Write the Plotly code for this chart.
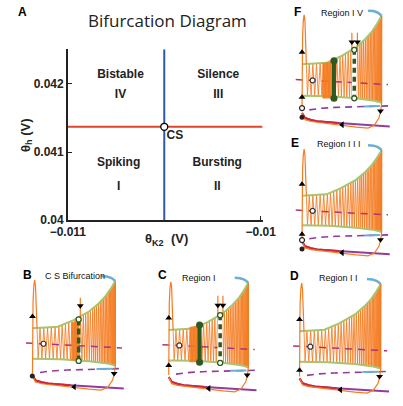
import plotly.graph_objects as go

W, H = 403, 406

# ---------------- Panel A data ----------------
theta_k2_range = [-0.011, -0.00999]
theta_h_range = [0.04, 0.04251]
x_tickvals = [-0.011, -0.01]
x_ticktext = ['−0.011', '−0.01']
y_tickvals = [0.04, 0.041, 0.042]
y_ticktext = ['0.04', '0.041', '0.042']
saddle_x = [-0.011, -0.00999]
saddle_y = [0.04137, 0.04137]
hopf_x = [-0.0105, -0.0105]
hopf_y = [0.04, 0.04251]
cs_x = [-0.0105]
cs_y = [0.04137]
region_names = ['Bistable', 'Silence', 'Spiking', 'Bursting']
region_numerals = ['IV', 'III', 'I', 'II']
region_x = [-0.010727, -0.01022, -0.010737, -0.010225]
region_name_y = [0.042136, 0.042136, 0.040837, 0.040837]
region_num_y = [0.041833, 0.041833, 0.040491, 0.040491]

# ---------------- schematic template (local units, y down) ----------------
spike_x = [0, 0, 0.6, 1.4, 2.3, 3.2, 4.0, 4.8]
spike_y = [95, 49, 22, 6, 0, 6, 22, 49]
peaks_x = [8, 12, 16, 20, 24, 28, 31.5, 35, 38.5, 42, 45, 48, 51, 54, 56.5, 59, 61.5, 64, 66, 68,
           70, 72, 73.8, 75.5, 77.2, 78.8, 80.3, 81.7, 83, 84.2, 85.3, 86.3, 87.2, 88]
peaks_y = [48.7, 48.6, 48.4, 48.1, 47.8, 47.1, 45.7, 44.3, 42.8, 41.4, 39.9, 38.4, 36.8, 35.2, 33.9,
           32.5, 30.8, 28.8, 27.2, 25.6, 24, 22, 20.2, 18.5, 16.7, 14.6, 12.6, 10.7, 9, 7.1, 5.3, 3.7, 2.3, 1]
troughs_x = [6, 10, 14, 18, 22, 26, 29.8, 33.3, 36.8, 40.3, 43.5, 46.5, 49.5, 52.5, 55.3, 57.8, 60.3,
             62.8, 65, 67, 69, 71, 72.9, 74.7, 76.4, 78, 79.6, 81, 82.4, 83.6, 84.8, 85.8, 86.8, 87.6]
troughs_y = [80.1, 80.2, 80.2, 80.3, 80.4, 80.4, 80.5, 80.7, 81, 81.2, 81.4, 81.6, 81.8, 82, 82.2, 82.4,
             82.5, 82.9, 83.1, 83.4, 83.6, 83.9, 84.1, 84.3, 84.6, 84.8, 85, 85.3, 85.6, 85.9, 86.2, 86.5, 86.7, 86.9]
env_up_x = [0, 15, 27, 43, 60, 70, 77, 83, 88]
env_up_y = [49, 48.5, 47.5, 41, 32, 24, 17, 9, 1]
env_lo_x = [0, 30, 60, 80, 88]
env_lo_y = [80, 80.5, 82.5, 85, 87]
cap_x = [73, 79, 84, 88]
cap_y = [-4, -3.6, -2, 1]
mid_x = [-7, 95]
mid_y = [64, 69]
mid_pt = (11.7, 64.8)
bdash_x = [8, 20, 37, 60, 97]
bdash_y = [94, 92.5, 91.5, 90.7, 90]
blow_x = [68, 78, 86]
blow_y = [90.6, 90.4, 90.2]
bsol_x = [0, 3.3, 10, 16.7, 40, 70, 97]
bsol_y = [97, 102, 104, 105.3, 107, 108.7, 110.3]
bred_x = [0, 3.3, 10, 16.7, 40]
bred_y = [97, 102, 104, 105.3, 107]
ret_x = [88, 88, 87, 85, 80, 73, 60, 40, 23, 10, 3.3, 0]
ret_y = [1, 87, 95, 102, 109, 112, 111, 108.5, 107, 105.5, 103.7, 97]
arrow_up = (0, 37)
arrow_down = (86.7, 95)
arrow_left = (44.3, 108.7)

# panel placements (origin px, scale)
panels = {
    'B': dict(ox=15.7, oy=285, sx=1.02, sy=1.0),
    'C': dict(ox=163.3, oy=286.7, sx=0.98, sy=1.0),
    'D': dict(ox=305, oy=288, sx=1.0, sy=1.0),
    'E': dict(ox=307.7, oy=151.7, sx=0.98, sy=0.97),
    'F': dict(ox=307.7, oy=15, sx=0.98, sy=1.03),
}
panel_titles = {'B': 'C S Bifurcation', 'C': 'Region I', 'D': 'Region I I', 'E': 'Region I I I', 'F': 'Region I V'}
title_pos = {'B': (62, 281), 'C': (196, 282.5), 'D': (347, 283), 'E': (348, 146.5), 'F': (351, 13)}
letter_pos = {'A': (5, 12), 'B': (10, 280), 'C': (156.5, 280), 'D': (299.5, 281), 'E': (300, 145), 'F': (302.5, 12.5)}

ORANGE = '#F47B20'
GREEN = '#A9C46E'
BLUE = '#6BAED6'
PURPLE = '#923C9C'
MAGENTA = '#B0337A'
RED = '#D0263A'
DKGREEN = '#2E5A1F'

fig = go.Figure()

# ---------------- Panel A ----------------
fig.add_trace(go.Scatter(x=saddle_x, y=saddle_y, mode='lines', line=dict(color='#E2452D', width=2),
                         xaxis='x', yaxis='y', hoverinfo='skip'))
fig.add_trace(go.Scatter(x=hopf_x, y=hopf_y, mode='lines', line=dict(color='#2D5AA8', width=2),
                         xaxis='x', yaxis='y', hoverinfo='skip'))
fig.add_trace(go.Scatter(x=cs_x, y=cs_y, mode='markers',
                         marker=dict(size=7, color='white', line=dict(color='black', width=1.3)),
                         xaxis='x', yaxis='y', hoverinfo='skip'))
fig.add_trace(go.Scatter(x=region_x, y=region_name_y, mode='text', text=region_names,
                         textfont=dict(family='Liberation Sans', size=12, color='#222', weight='bold'),
                         xaxis='x', yaxis='y', hoverinfo='skip'))
fig.add_trace(go.Scatter(x=region_x, y=region_num_y, mode='text', text=region_numerals,
                         textfont=dict(family='Liberation Sans', size=12, color='#222', weight='bold'),
                         xaxis='x', yaxis='y', hoverinfo='skip'))
fig.add_trace(go.Scatter(x=[-0.010445], y=[0.041241], mode='text', text=['CS'],
                         textfont=dict(family='Liberation Sans', size=12, color='#222', weight='bold'),
                         xaxis='x', yaxis='y', hoverinfo='skip'))


# ---------------- schematic panels ----------------
def tr(p, xs, ys):
    return [p['ox'] + p['sx'] * v for v in xs], [p['oy'] + p['sy'] * v for v in ys]


def add_line(xs, ys, color, width, dash=None, fill=None, fillcolor=None, opacity=1.0):
    fig.add_trace(go.Scatter(x=xs, y=ys, mode='lines', xaxis='x2', yaxis='y2', hoverinfo='skip',
                             line=dict(color=color, width=width, dash=dash), fill=fill,
                             fillcolor=fillcolor, opacity=opacity))


def add_marker(xs, ys, symbol, size, color, lcolor=None, lwidth=0):
    fig.add_trace(go.Scatter(x=xs, y=ys, mode='markers', xaxis='x2', yaxis='y2', hoverinfo='skip',
                             marker=dict(symbol=symbol, size=size, color=color,
                                         line=dict(color=lcolor or color, width=lwidth))))


for name, p in panels.items():
    # zigzag
    zx = [spike_x[-1]]
    zy = [spike_y[-1]]
    for i in range(len(peaks_x)):
        zx += [troughs_x[i], peaks_x[i]]
        zy += [troughs_y[i], peaks_y[i]]
    xs, ys = tr(p, zx, zy)
    add_line(xs, ys, ORANGE, 0.85)
    # dashed mid line over the spikes
    xs, ys = tr(p, mid_x, mid_y)
    add_line(xs, ys, MAGENTA, 1.5, dash='7px,6px')
    # envelopes
    xs, ys = tr(p, env_up_x, env_up_y)
    add_line(xs, ys, GREEN, 2)
    xs, ys = tr(p, env_lo_x, env_lo_y)
    add_line(xs, ys, GREEN, 2)
    # blue cap
    xs, ys = tr(p, cap_x, cap_y)
    add_line(xs, ys, BLUE, 2.5)
    # bottom dashed
    xs, ys = tr(p, bdash_x, bdash_y)
    add_line(xs, ys, PURPLE, 1.6, dash='7px,5px')
    xs, ys = tr(p, blow_x, blow_y)
    add_line(xs, ys, BLUE, 2)
    # bottom solid
    xs, ys = tr(p, bsol_x, bsol_y)
    add_line(xs, ys, PURPLE, 2)
    xs, ys = tr(p, bred_x, bred_y)
    add_line(xs, ys, RED, 2)
    # return path and spike
    xs, ys = tr(p, ret_x, ret_y)
    add_line(xs, ys, ORANGE, 1.2)
    xs, ys = tr(p, spike_x, spike_y)
    add_line(xs, ys, ORANGE, 1.2)
    # mid circle
    xs, ys = tr(p, [mid_pt[0]], [mid_pt[1]])
    add_marker(xs, ys, 'circle', 5, 'white', '#333', 1.2)
    # arrows
    xs, ys = tr(p, [arrow_up[0]], [arrow_up[1]])
    add_marker(xs, ys, 'triangle-up', 6, 'black')
    xs, ys = tr(p, [arrow_down[0]], [arrow_down[1]])
    add_marker(xs, ys, 'triangle-down', 6, 'black')
    xs, ys = tr(p, [arrow_left[0]], [arrow_left[1]])
    add_marker(xs, ys, 'triangle-left', 6, 'black')

# ---- panel-specific extras (px) ----
# B
add_line([58, 65.7, 65.7, 58, 58], [328.5, 326.5, 367, 366.5, 328.5], ORANGE, 0.5, fill='toself', fillcolor=ORANGE, opacity=0.9)
add_line([67.5, 67.5], [303, 326], ORANGE, 1.2)
add_marker([67.5], [311], 'triangle-down', 6, 'black')
add_line([65.7, 65.7], [325, 367.3], DKGREEN, 3.5, dash='6px,3px')
add_marker([65.7, 65.7], [325, 367.3], 'circle', 5, 'white', DKGREEN, 1.3)
add_marker([15.5], [382.7], 'circle', 5, '#222')
# C
add_line([186, 196.7, 196.7, 186, 186], [333, 331, 368.3, 368.3, 333], ORANGE, 0.5, fill='toself', fillcolor=ORANGE, opacity=0.9)
add_line([196.7, 196.7], [330.7, 368.7], DKGREEN, 4)
add_marker([196.7, 196.7], [330.7, 368.7], 'circle', 7, DKGREEN)
add_line([216.5, 216.5], [301, 322], ORANGE, 1.2)
add_line([222, 222], [301, 322], ORANGE, 1.2)
add_line([219, 219], [320.7, 369.3], 'white', 5)
add_line([219, 219], [320.7, 369.3], DKGREEN, 3.5, dash='5px,4px')
add_marker([219, 219], [320.7, 369.3], 'circle', 5, 'white', DKGREEN, 1.3)
add_marker([216.5, 222], [310.7, 310.7], 'triangle-down', 6, 'black')
add_marker([163.3], [372], 'triangle-up', 6, 'black')
# D
add_marker([305], [376.7], 'triangle-up', 6, 'black')
# E
add_marker([307.7], [238.3], 'triangle-up', 6, 'black')
add_marker([307.7], [244.3], 'circle', 5, 'white', '#222', 1.2)
add_marker([307.7], [253.3], 'circle', 5, '#222')
# F
add_line([330, 342.3, 342.3, 330, 330], [64.5, 62.5, 100, 100, 64.5], ORANGE, 0.5, fill='toself', fillcolor=ORANGE, opacity=0.9)
add_line([342.3, 342.3], [61.7, 100], DKGREEN, 4)
add_marker([342.3, 342.3], [61.7, 100], 'circle', 7, DKGREEN)
add_line([361.7, 361.7], [33.3, 52], ORANGE, 1.2)
add_line([367.7, 367.7], [33.3, 52], ORANGE, 1.2)
add_line([364.3, 364.3], [50.7, 100], 'white', 5)
add_line([364.3, 364.3], [50.7, 100], DKGREEN, 3.5, dash='5px,4px')
add_marker([364.3, 364.3], [50.7, 100], 'circle', 5, 'white', DKGREEN, 1.3)
add_marker([361.7, 367.7], [42.7, 42.7], 'triangle-down', 6, 'black')
add_marker([307.7], [99], 'triangle-up', 6, 'black')
add_marker([307.7], [110], 'circle', 5, 'white', '#222', 1.2)
add_marker([307.7], [119.3], 'circle', 5, '#222')

# ---------------- annotations ----------------
ann = []
for k, (x, y) in letter_pos.items():
    ann.append(dict(x=x, y=y, xref='x2', yref='y2', text=k, showarrow=False,
                    font=dict(family='Liberation Sans', size=12, color='black', weight='bold')))
for k, (x, y) in title_pos.items():
    ann.append(dict(x=x, y=y, xref='x2', yref='y2', text=panel_titles[k], showarrow=False,
                    font=dict(family='Liberation Sans', size=9, color='#111')))
ann.append(dict(x=162, y=21, xref='x2', yref='y2', text='Bifurcation Diagram', showarrow=False,
                font=dict(family='Open Sans', size=17, color='#222')))
ann.append(dict(x=161, y=244, xref='x2', yref='y2', text='θ<sub>K2</sub>  (V)', showarrow=False,
                font=dict(family='Liberation Sans', size=13, color='#222', weight='bold')))
ann.append(dict(x=9, y=137, xref='x2', yref='y2', text='θ<sub>h</sub> (V)', showarrow=False, textangle=-90,
                font=dict(family='Liberation Sans', size=13, color='#222', weight='bold')))

fig.update_layout(
    width=W, height=H, margin=dict(l=0, r=0, t=0, b=0), paper_bgcolor='white', plot_bgcolor='rgba(0,0,0,0)',
    showlegend=False, annotations=ann,
    xaxis=dict(domain=[54 / W, 265 / W], range=theta_k2_range, tickvals=x_tickvals, ticktext=x_ticktext,
               showline=True, linecolor='#222', linewidth=1.5, ticks='inside', ticklen=4, tickcolor='#222',
               showgrid=False, zeroline=False, anchor='y',
               tickfont=dict(family='Liberation Sans', size=12, color='#222', weight='bold')),
    yaxis=dict(domain=[1 - 224 / H, 1 - 50 / H], range=theta_h_range, tickvals=y_tickvals, ticktext=y_ticktext,
               showline=True, linecolor='#222', linewidth=1.5, ticks='inside', ticklen=4, tickcolor='#222',
               showgrid=False, zeroline=False, anchor='x',
               tickfont=dict(family='Liberation Sans', size=12, color='#222', weight='bold')),
    xaxis2=dict(domain=[0, 1], range=[0, W], visible=False, anchor='y2', fixedrange=True),
    yaxis2=dict(domain=[0, 1], range=[H, 0], visible=False, anchor='x2', fixedrange=True),
)

fig.write_html('out.html')
